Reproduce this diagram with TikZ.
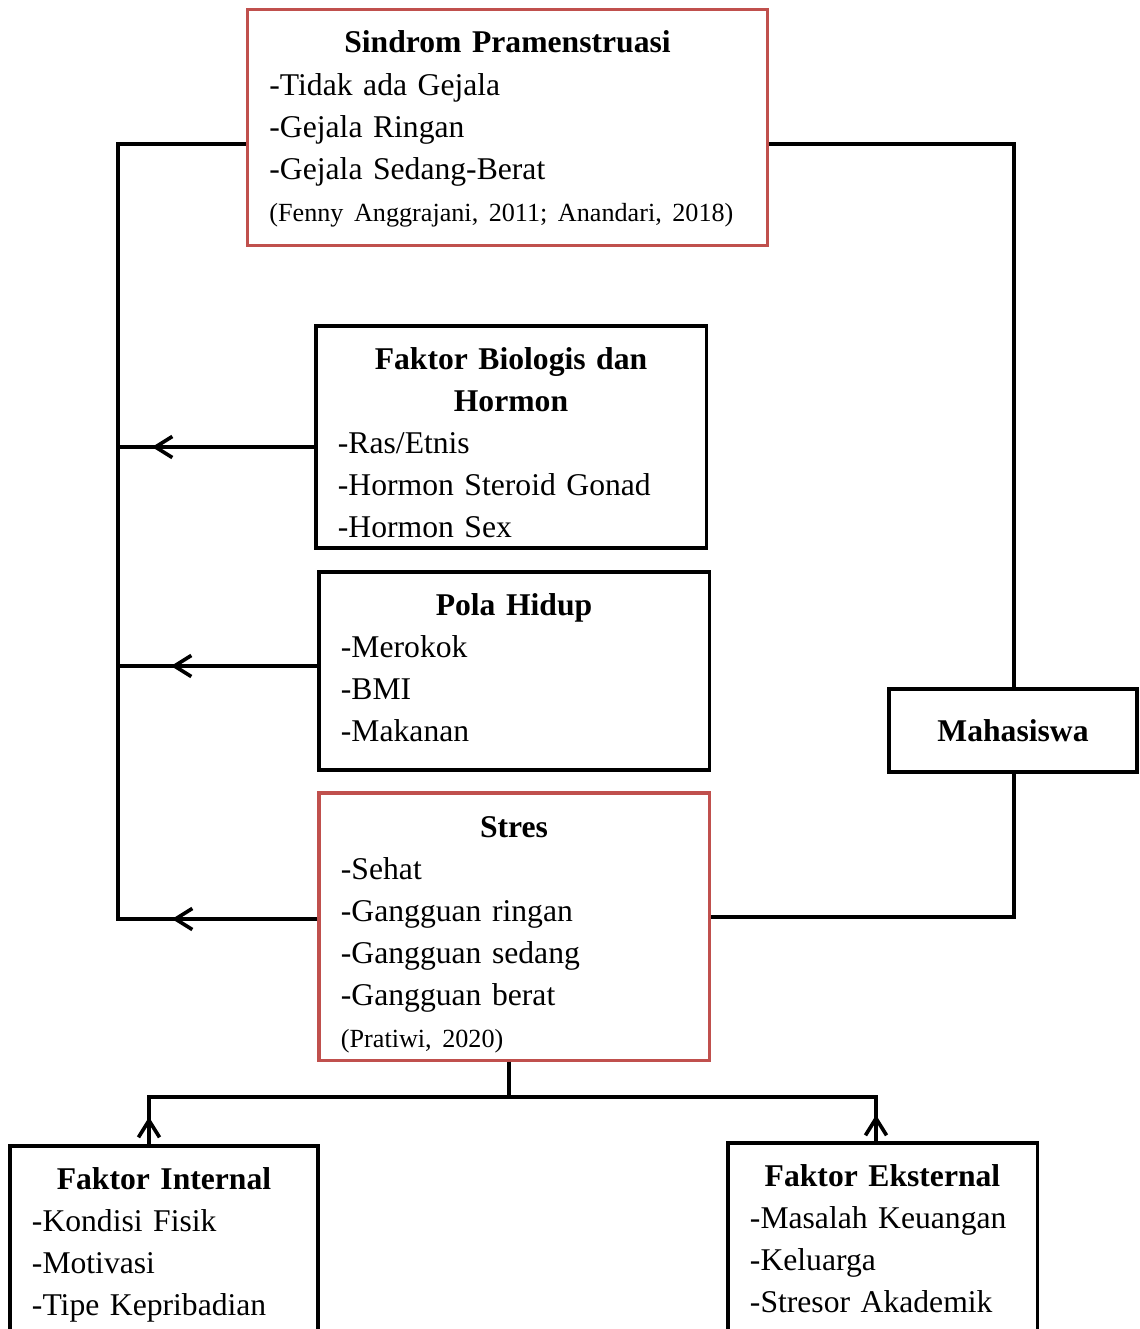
\documentclass[tikz,border=0pt]{standalone}
\usepackage{fontspec}
\setmainfont{Liberation Serif}
\usetikzlibrary{arrows.meta}
\definecolor{boxred}{RGB}{192,80,77}
\setlength{\parindent}{0pt}
\frenchspacing

\tikzset{
  kotak/.style={draw=black, line width=2.2pt, inner sep=0pt},
  kotakmerah/.style={kotak, draw=boxred},
  isi/.style={anchor=north, inner sep=0pt, align=left, yshift=-0.57cm,
    font=\fontsize{22.5}{29.9}\selectfont},
  garis/.style={line width=2.2pt},
  panah/.style={line width=2.6pt, -{Straight Barb[length=12pt,width=15pt]}},
}

\begin{document}
\begin{tikzpicture}[x=0.025cm, y=-0.025cm]
  \useasboundingbox (0,0) rectangle (1139,1329);
  \clip (0,0) rectangle (1139,1329);

  % Kotak-kotak
  \node[kotakmerah, minimum width=13cm, minimum height=5.9cm] (sindrom) at (507.5,127.5) {};
  \node[isi, text width=11.9cm] (sindromisi) at (sindrom.north)
    {{\centering\bfseries Sindrom Pramenstruasi\par}-Tidak ada Gejala\\-Gejala Ringan\\-Gejala Sedang-Berat\\{\fontsize{18.6}{29.9}\selectfont (Fenny Anggrajani, 2011; Anandari, 2018)}};

  \node[kotak, minimum width=9.75cm, minimum height=5.55cm] (bio) at (511,437) {};
  \node[isi, text width=8.65cm] (bioisi) at (bio.north)
    {{\centering\bfseries Faktor Biologis dan\\Hormon\par}-Ras/Etnis\\-Hormon Steroid Gonad\\-Hormon Sex};

  \node[kotak, minimum width=9.75cm, minimum height=4.95cm] (pola) at (514,671) {};
  \node[isi, text width=8.65cm] (polaisi) at (pola.north)
    {{\centering\bfseries Pola Hidup\par}-Merokok\\-BMI\\-Makanan};

  \node[kotak, minimum width=6.2cm, minimum height=2.075cm,
    font=\fontsize{22.5}{29.9}\selectfont\bfseries] (mhs) at (1013,730.5) {Mahasiswa};

  \node[kotakmerah, minimum width=9.75cm, minimum height=6.675cm] (stres) at (514,926.5) {};
  \node[isi, text width=8.65cm, yshift=-0.05cm] (stresisi) at (stres.north)
    {{\centering\bfseries Stres\par}-Sehat\\-Gangguan ringan\\-Gangguan sedang\\-Gangguan berat\\{\fontsize{18.6}{29.9}\selectfont (Pratiwi, 2020)}};

  \node[kotak, minimum width=7.7cm, minimum height=6.35cm] (internal) at (164,1273) {};
  \node[isi, text width=6.6cm] (internalisi) at (internal.north)
    {{\centering\bfseries Faktor Internal\par}-Kondisi Fisik\\-Motivasi\\-Tipe Kepribadian};

  \node[kotak, minimum width=7.725cm, minimum height=6.425cm] (eksternal) at (882.5,1271.5) {};
  \node[isi, text width=6.625cm] (eksternalisi) at (eksternal.north)
    {{\centering\bfseries Faktor Eksternal\par}-Masalah Keuangan\\-Keluarga\\-Stresor Akademik};

  % Titik bantu
  \coordinate (kiriatas) at (118,144);
  \coordinate (kiribawah) at (118,919);
  \coordinate (kananatas) at (1014,144);
  \coordinate (kananbawah) at (1014,917);
  \coordinate (ujungbio) at (152,447);
  \coordinate (ujungpola) at (171,666);
  \coordinate (ujungstres) at (172,919);
  \coordinate (tengahbawah) at (509,1097);
  \coordinate (cabangkiri) at (149,1097);
  \coordinate (cabangkanan) at (876,1097);
  \coordinate (ujunginternal) at (149,1117);
  \coordinate (ujungeksternal) at (876,1115);

  % Garis penghubung
  \draw[garis] (sindrom.west |- kiriatas) -- (kiriatas) -- (kiribawah) -- (stres.west |- kiribawah);
  \draw[garis] (sindrom.east |- kananatas) -- (kananatas) -- (mhs.north -| kananatas);
  \draw[garis] (mhs.south -| kananbawah) -- (kananbawah) -- (stres.east |- kananbawah);
  \draw[garis] (bio.west |- ujungbio) -- (kiriatas |- ujungbio);
  \draw[garis] (pola.west |- ujungpola) -- (kiriatas |- ujungpola);
  \draw[garis] (stres.south -| tengahbawah) -- (tengahbawah);
  \draw[garis] (internal.north -| cabangkiri) -- (cabangkiri) -- (cabangkanan) -- (eksternal.north -| cabangkanan);

  % Panah
  \draw[panah] (bio.west |- ujungbio) -- (ujungbio);
  \draw[panah] (pola.west |- ujungpola) -- (ujungpola);
  \draw[panah] (stres.west |- ujungstres) -- (ujungstres);
  \draw[panah] (internal.north -| ujunginternal) -- (ujunginternal);
  \draw[panah] (eksternal.north -| ujungeksternal) -- (ujungeksternal);
\end{tikzpicture}
\end{document}
